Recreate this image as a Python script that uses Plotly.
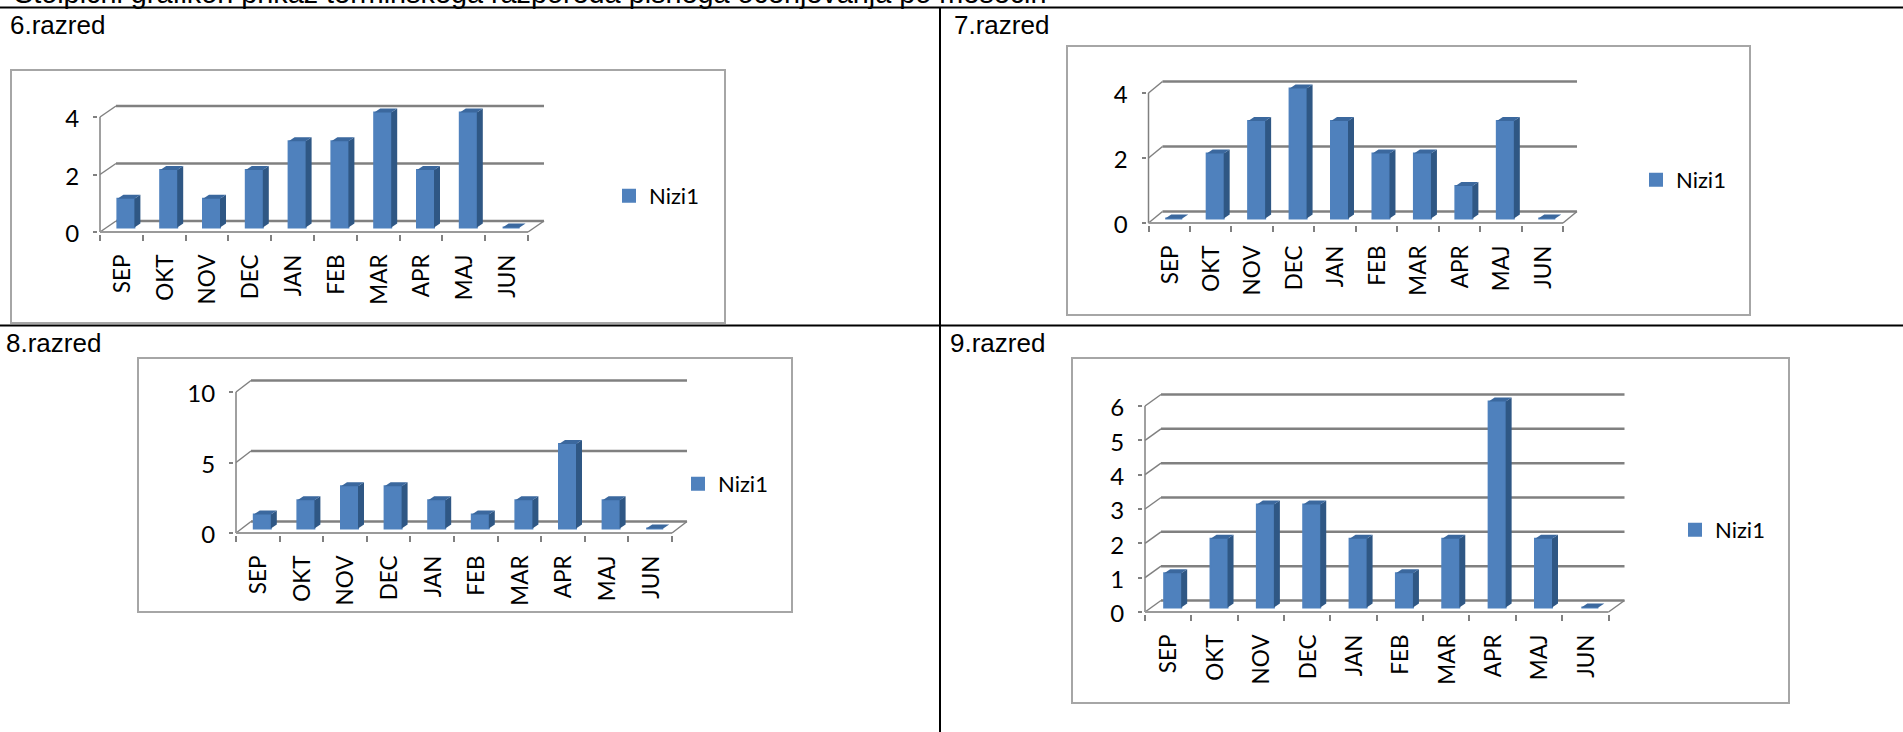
import plotly.graph_objects as go

# ---------- data ----------
months = ["SEP", "OKT", "NOV", "DEC", "JAN", "FEB", "MAR", "APR", "MAJ", "JUN"]
values_6 = [1, 2, 1, 2, 3, 3, 4, 2, 4, 0]
values_7 = [0, 2, 3, 4, 3, 2, 2, 1, 3, 0]
values_8 = [1, 2, 3, 3, 2, 1, 2, 6, 2, 0]
values_9 = [1, 2, 3, 3, 2, 1, 2, 6, 2, 0]
yticks_6 = [0, 2, 4]
yticks_7 = [0, 2, 4]
yticks_8 = [0, 5, 10]
yticks_9 = [0, 1, 2, 3, 4, 5, 6]
series_name = "Nizi1"
heading = "Stolpični grafikon prikaz terminskega razporeda pisnega ocenjevanja po mesecih"
titles = ["6.razred", "7.razred", "8.razred", "9.razred"]

# ---------- layout (pixels on the 1903x732 page) ----------
W, H = 1903, 732
GREY = "#808080"
FRAME = "#A6A6A6"
FRONT, SIDE, TOP = "#4F81BD", "#2F5784", "#3B689E"

panels = [
    dict(values=values_6, yticks=yticks_6, title=titles[0], title_xy=(10, 25),
         frame=(11, 70, 725, 323), x0=100, x1=528, xr=544, y0=232, ytop=117, dy=11, legend_xy=(609, 196)),
    dict(values=values_7, yticks=yticks_7, title=titles[1], title_xy=(954, 25),
         frame=(1067, 46, 1750, 315), x0=1148.5, x1=1563, xr=1577, y0=223, ytop=93, dy=11.5, legend_xy=(1636, 180)),
    dict(values=values_8, yticks=yticks_8, title=titles[2], title_xy=(6, 343),
         frame=(138, 358, 792, 612), x0=236, x1=672, xr=687, y0=533, ytop=392, dy=11.5, legend_xy=(678, 484)),
    dict(values=values_9, yticks=yticks_9, title=titles[3], title_xy=(950, 343),
         frame=(1072, 358, 1789, 703), x0=1145, x1=1608.5, xr=1624.5, y0=612, ytop=406, dy=11.5, legend_xy=(1675, 530)),
]

PAD = 2            # room around the plotting area so edge lines are not clipped
BAR_W_PX = 17      # bar width
BAR_OFF_PX = 4.5   # bar shift right from category centre
BASE_PX = 4.5      # bar lift above the front floor edge
DEPTH_X_PX = 6     # side face depth
DEPTH_Y_PX = 4     # top face depth

fig = go.Figure()
shapes, annotations = [], []
layout = {}


def line(xref, yref, x0, y0, x1, y1, color=GREY, width=2.5):
    return dict(type="line", xref=xref, yref=yref, x0=x0, y0=y0, x1=x1, y1=y1,
                line=dict(color=color, width=width), layer="below")


for n, p in enumerate(panels):
    s = "" if n == 0 else str(n + 1)
    xa, ya = f"x{s}", f"y{s}"
    vals = p["values"]
    ymax = max(p["yticks"])
    cat_px = (p["x1"] - p["x0"]) / len(months)
    unit_px = (p["y0"] - p["ytop"]) / ymax
    wall_x = (p["xr"] - p["x1"]) / cat_px
    wall_y = p["dy"] / unit_px
    left, right = -0.5, len(months) - 0.5

    # chart frame
    fl, ft, fr, fb = p["frame"]
    shapes.append(dict(type="rect", xref="paper", yref="paper", x0=fl / W, x1=fr / W,
                       y0=1 - fb / H, y1=1 - ft / H, line=dict(color=FRAME, width=2), layer="below"))

    # back wall gridlines, diagonals, floor
    for t in p["yticks"]:
        shapes.append(line(xa, ya, left, t, left + wall_x, t + wall_y, width=1.5))
        shapes.append(line(xa, ya, left + wall_x, t + wall_y, right + wall_x, t + wall_y))
    shapes.append(line(xa, ya, left, 0, left, ymax, width=1.5))
    shapes.append(line(xa, ya, left, 0, right, 0, color="#9A9A9A", width=2))
    shapes.append(line(xa, ya, right, 0, right + wall_x, wall_y, width=1.5))

    # bars: front face through the bar trace, side and top faces in data units
    bar_w = BAR_W_PX / cat_px
    off = BAR_OFF_PX / cat_px
    base = BASE_PX / unit_px
    sx = DEPTH_X_PX / cat_px
    sy = DEPTH_Y_PX / unit_px
    xs = [i + off for i in range(len(vals))]
    fig.add_trace(go.Bar(x=xs, y=vals, base=[base] * len(vals), width=bar_w, name=series_name,
                         marker=dict(color=FRONT, line=dict(width=2, color=FRONT)), xaxis=xa, yaxis=ya,
                         legend="legend" + s, showlegend=True, hoverinfo="skip"))
    side_x, side_y, top_x, top_y = [], [], [], []
    for x, v in zip(xs, vals):
        a, b = x - bar_w / 2, x + bar_w / 2
        if v > 0:
            side_x += [b, b + sx, b + sx, b, None]
            side_y += [base, base + sy, base + v + sy, base + v, None]
        top_x += [a, a + sx, b + sx, b, None]
        top_y += [base + v, base + v + sy, base + v + sy, base + v, None]
    for fx, fy, col in ((side_x, side_y, SIDE), (top_x, top_y, TOP)):
        fig.add_trace(go.Scatter(x=fx, y=fy, mode="lines", fill="toself", fillcolor=col,
                                 line=dict(width=0, color=col), xaxis=xa, yaxis=ya,
                                 showlegend=False, hoverinfo="skip"))

    layout["xaxis" + s] = dict(
        domain=[(p["x0"] - PAD) / W, (p["xr"] + PAD) / W],
        range=[left - PAD / cat_px, right + wall_x + PAD / cat_px], anchor=ya,
        tickmode="array", tickvals=list(range(len(months))), ticktext=months, tickangle=-90,
        ticks="", showgrid=False, zeroline=False, showline=False, ticklabelstandoff=15, ticklabelshift=1,
        tickfont=dict(family="Lato", size=22.5, color="black"),
        minor=dict(tickmode="array", tickvals=[i - 0.5 for i in range(len(months) + 1)],
                   ticks="outside", ticklen=6, tickwidth=1.5, tickcolor=GREY, showgrid=False),
    )
    layout["yaxis" + s] = dict(
        domain=[1 - (p["y0"] + PAD) / H, 1 - (p["ytop"] - p["dy"] - PAD) / H],
        range=[-PAD / unit_px, ymax + wall_y + PAD / unit_px], anchor=xa,
        tickmode="array", tickvals=p["yticks"], ticks="outside", ticklen=4, tickwidth=1.5, tickcolor=GREY,
        showgrid=False, zeroline=False, showline=False, ticklabelstandoff=9, ticklabelshift=2,
        tickfont=dict(family="Lato", size=24, color="black"),
    )
    layout["legend" + s] = dict(
        x=p["legend_xy"][0] / W, y=1 - p["legend_xy"][1] / H, xanchor="left", yanchor="middle",
        bgcolor="rgba(0,0,0,0)", borderwidth=0, font=dict(family="Lato", size=22, color="black"),
    )
    annotations.append(dict(text=p["title"], xref="paper", yref="paper", x=p["title_xy"][0] / W,
                            y=1 - p["title_xy"][1] / H, xanchor="left", yanchor="middle", showarrow=False,
                            xshift=-2, font=dict(family="Liberation Sans", size=26, color="black")))

# table rules
for y in (7.5, 325.5):
    shapes.append(dict(type="line", xref="paper", yref="paper", x0=0, x1=1, y0=1 - y / H, y1=1 - y / H,
                       line=dict(color="black", width=2), layer="below"))
shapes.append(dict(type="line", xref="paper", yref="paper", x0=940 / W, x1=940 / W, y0=0, y1=1 - 7.5 / H,
                   line=dict(color="black", width=2), layer="below"))

# clipped heading at the very top of the page
annotations.append(dict(text=heading, xref="paper", yref="paper", x=12 / W, y=1 + 6.5 / H, xanchor="left",
                        yanchor="middle", showarrow=False,
                        font=dict(family="Liberation Sans", size=28.8, color="black")))

fig.update_layout(width=W, height=H, margin=dict(l=0, r=0, t=0, b=0, autoexpand=False), paper_bgcolor="white",
                  plot_bgcolor="rgba(0,0,0,0)", barmode="overlay", shapes=shapes, annotations=annotations,
                  **layout)
fig.write_html("out.html", config=dict(displayModeBar=False),
               post_script="document.body.style.margin='0';document.body.style.overflow='hidden';")
